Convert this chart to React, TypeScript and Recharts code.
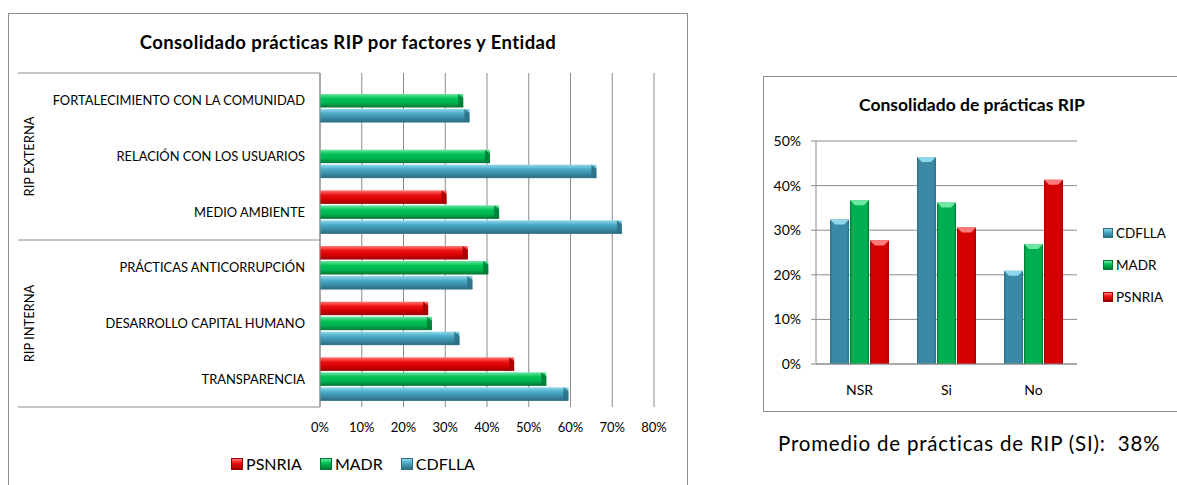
import React from 'react';
import { BarChart, Bar, XAxis, YAxis, CartesianGrid } from 'recharts';

// Factores RIP (de arriba hacia abajo) y su agrupación
const factores = [
  'FORTALECIMIENTO CON LA COMUNIDAD',
  'RELACIÓN CON LOS USUARIOS',
  'MEDIO AMBIENTE',
  'PRÁCTICAS ANTICORRUPCIÓN',
  'DESARROLLO CAPITAL HUMANO',
  'TRANSPARENCIA',
];
const grupos = ['RIP EXTERNA', 'RIP INTERNA'];
const tamanoGrupos = [3, 3];

// Porcentaje de prácticas por factor y entidad
const psnriaFactor = [null, null, 30.3, 35.4, 25.9, 46.5];
const madrFactor = [34.3, 40.7, 42.9, 40.3, 26.8, 54.2];
const cdfllaFactor = [35.8, 66.2, 72.3, 36.5, 33.4, 59.5];
const ticksFactor = [0, 10, 20, 30, 40, 50, 60, 70, 80];

// Consolidado por respuesta
const respuestas = ['NSR', 'Si', 'No'];
const cdfllaResp = [32.4, 46.4, 20.9];
const madrResp = [36.7, 36.2, 26.9];
const psnriaResp = [27.7, 30.6, 41.3];
const ticksResp = [0, 10, 20, 30, 40, 50];

const entidades = [
  { key: 'PSNRIA', light: '#ff7a7a', mid: '#ee1111', dark: '#a00000', body: '#d40000' },
  { key: 'MADR', light: '#6ee7a4', mid: '#00c254', dark: '#007a36', body: '#00b050' },
  { key: 'CDFLLA', light: '#8fd8ec', mid: '#4bacc6', dark: '#2c6f84', body: '#3a8aa5' },
];
const color = (k: string) => entidades.find((e) => e.key === k)!;

const datosFactor = factores.map((f, i) => ({
  factor: f,
  PSNRIA: psnriaFactor[i],
  MADR: madrFactor[i],
  CDFLLA: cdfllaFactor[i],
}));

const datosResp = respuestas.map((r, i) => ({
  respuesta: r,
  CDFLLA: cdfllaResp[i],
  MADR: madrResp[i],
  PSNRIA: psnriaResp[i],
}));

const promedioSi = Math.round(
  (cdfllaResp[1] + madrResp[1] + psnriaResp[1]) / 3
);

const FONT = 'Lato, "Open Sans", sans-serif';
const GRIS = '#8c8c8c';

// geometría del gráfico de barras horizontales
const W1 = 700;
const H1 = 485;
const PLOT1 = { left: 320, right: 654, top: 73, bottom: 407 };

// geometría del gráfico de columnas
const X2 = 730;
const Y2 = 60;
const W2 = 447;
const H2 = 360;
const PLOT2 = { left: 816, right: 1077, top: 141, bottom: 364 };

const barraHorizontal = (k: string) => (props: any) => {
  const { x, y, width, height } = props;
  if (!width || width <= 0) return null;
  const c = color(k);
  const b = Math.min(5, width / 2);
  return (
    <g>
      <rect x={x} y={y} width={width} height={height} fill={`url(#h-${k})`} />
      <polygon
        points={`${x + width - b},${y} ${x + width},${y + b - 1} ${x + width},${y + height} ${x + width - b},${y + height}`}
        fill={c.dark}
        opacity={0.85}
      />
      <line x1={x} y1={y + height} x2={x + width} y2={y + height} stroke={c.dark} strokeWidth={1} />
    </g>
  );
};

const barraVertical = (k: string) => (props: any) => {
  const { x, y, width, height } = props;
  if (!height || height <= 0) return null;
  const c = color(k);
  return (
    <g>
      <rect x={x} y={y} width={width} height={height} fill={`url(#v-${k})`} />
      <polygon
        points={`${x},${y} ${x + width},${y} ${x + width - 5},${y + 5} ${x + 5},${y + 5}`}
        fill={c.light}
      />
      <polygon
        points={`${x + 3},${y + height} ${x + width - 3},${y + height} ${x + width - 6},${y + height - 3} ${x + 6},${y + height - 3}`}
        fill={c.body}
        opacity={0.6}
      />
    </g>
  );
};

const Gradientes = () => (
  <svg width={0} height={0} style={{ position: 'absolute' }}>
    <defs>
      {entidades.map((e) => (
        <linearGradient key={`h-${e.key}`} id={`h-${e.key}`} x1="0" y1="0" x2="0" y2="1">
          <stop offset="0%" stopColor={e.light} />
          <stop offset="35%" stopColor={e.mid} />
          <stop offset="70%" stopColor={e.body} />
          <stop offset="100%" stopColor={e.dark} />
        </linearGradient>
      ))}
      {entidades.map((e) => (
        <linearGradient key={`v-${e.key}`} id={`v-${e.key}`} x1="0" y1="0" x2="1" y2="0">
          <stop offset="0%" stopColor={e.dark} />
          <stop offset="12%" stopColor={e.body} />
          <stop offset="88%" stopColor={e.body} />
          <stop offset="100%" stopColor={e.dark} />
        </linearGradient>
      ))}
    </defs>
  </svg>
);

const Cuadro = ({ k, size }: { k: string; size: number }) => {
  const c = color(k);
  return (
    <span
      style={{
        display: 'inline-block',
        width: size,
        height: size,
        background: `linear-gradient(${c.light}, ${c.mid} 40%, ${c.dark})`,
        border: `1px solid ${c.dark}`,
        boxSizing: 'border-box',
      }}
    />
  );
};

const GraficoFactores = () => {
  const banda = (PLOT1.bottom - PLOT1.top) / factores.length;
  const cortes = tamanoGrupos.reduce<number[]>((acc, n) => [...acc, acc[acc.length - 1] + n], [0]);
  return (
    <div style={{ position: 'absolute', left: 0, top: 0, width: W1, height: H1 }}>
      {/* marco */}
      <div
        style={{
          position: 'absolute',
          left: 8,
          top: 13,
          width: 688 - 8,
          height: 500,
          border: `1px solid ${GRIS}`,
          boxSizing: 'border-box',
        }}
      />
      <div
        style={{
          position: 'absolute',
          left: 8,
          width: 680,
          top: 30,
          textAlign: 'center',
          fontWeight: 700,
          fontSize: 18.5,
          letterSpacing: 0.4,
          lineHeight: '24px',
          color: '#000',
        }}
      >
        Consolidado prácticas RIP por factores y Entidad
      </div>
      <div style={{ position: 'absolute', left: 0, top: 0 }}>
        <BarChart
          width={W1}
          height={H1}
          data={datosFactor}
          layout="vertical"
          margin={{ top: PLOT1.top, right: W1 - PLOT1.right, bottom: 0, left: 0 }}
          barSize={13}
          barGap={2}
        >
          <CartesianGrid horizontal={false} stroke={GRIS} />
          <XAxis
            type="number"
            domain={[0, 80]}
            ticks={ticksFactor}
            tickFormatter={(v) => `${v}%`}
            axisLine={false}
            tickLine={false}
            tickSize={0}
            tickMargin={16}
            height={H1 - PLOT1.bottom}
            tick={{ fill: '#000', fontSize: 13, fontFamily: FONT }}
            interval={0}
          />
          <YAxis
            type="category"
            dataKey="factor"
            width={PLOT1.left}
            axisLine={{ stroke: GRIS }}
            tickLine={false}
            tickSize={0}
            tickMargin={15}
            tick={{ fill: '#000', fontSize: 12.9, fontFamily: FONT }}
            interval={0}
          />
          {['PSNRIA', 'MADR', 'CDFLLA'].map((k) => (
            <Bar key={k} dataKey={k} isAnimationActive={false} shape={barraHorizontal(k)} />
          ))}
        </BarChart>
      </div>
      {/* separadores y rótulos de grupo del eje de categorías */}
      <svg
        width={W1}
        height={H1}
        style={{ position: 'absolute', left: 0, top: 0, pointerEvents: 'none' }}
      >
        {cortes.map((c) => (
          <line
            key={c}
            x1={18}
            x2={PLOT1.left}
            y1={PLOT1.top + c * banda}
            y2={PLOT1.top + c * banda}
            stroke={GRIS}
          />
        ))}
        {grupos.map((g, i) => {
          const cy = PLOT1.top + ((cortes[i] + cortes[i + 1]) / 2) * banda;
          return (
            <text
              key={g}
              x={29}
              y={cy}
              transform={`rotate(-90 29 ${cy})`}
              textAnchor="middle"
              dominantBaseline="central"
              fontSize={12.9}
              fontFamily={FONT}
              fill="#000"
            >
              {g}
            </text>
          );
        })}
      </svg>
      <div
        style={{
          position: 'absolute',
          left: 8,
          width: 690,
          top: 454,
          display: 'flex',
          justifyContent: 'center',
          alignItems: 'center',
          gap: 18,
          fontSize: 16,
          color: '#000',
        }}
      >
        {['PSNRIA', 'MADR', 'CDFLLA'].map((k) => (
          <span key={k} style={{ display: 'flex', alignItems: 'center', gap: 3 }}>
            <Cuadro k={k} size={12} />
            {k}
          </span>
        ))}
      </div>
    </div>
  );
};

const GraficoRespuestas = () => (
  <div style={{ position: 'absolute', left: 0, top: 0 }}>
    <div
      style={{
        position: 'absolute',
        left: 763,
        top: 76,
        width: 500,
        height: 412 - 76,
        border: `1px solid ${GRIS}`,
        boxSizing: 'border-box',
      }}
    />
    <div
      style={{
        position: 'absolute',
        left: 852,
        width: 240,
        top: 94,
        textAlign: 'center',
        fontWeight: 700,
        fontSize: 17.5,
        lineHeight: '22px',
        color: '#000',
      }}
    >
      Consolidado de prácticas RIP
    </div>
    <div style={{ position: 'absolute', left: X2, top: Y2 }}>
      <BarChart
        width={W2}
        height={H2}
        data={datosResp}
        margin={{
          top: PLOT2.top - Y2,
          right: X2 + W2 - PLOT2.right,
          bottom: 0,
          left: PLOT2.left - X2 - 60,
        }}
        barSize={19}
        barGap={1}
      >
        <CartesianGrid vertical={false} stroke={GRIS} />
        <XAxis
          dataKey="respuesta"
          axisLine={{ stroke: GRIS }}
          tickLine={false}
          tickSize={0}
          tickMargin={21}
          height={Y2 + H2 - PLOT2.bottom}
          tick={{ fill: '#000', fontSize: 14, fontFamily: FONT }}
        />
        <YAxis
          type="number"
          domain={[0, 50]}
          ticks={ticksResp}
          tickFormatter={(v) => `${v}%`}
          width={60}
          axisLine={{ stroke: GRIS }}
          tickLine={{ stroke: GRIS }}
          tickSize={5}
          tickMargin={10}
          tick={{ fill: '#000', fontSize: 14, fontFamily: FONT }}
          interval={0}
        />
        {['CDFLLA', 'MADR', 'PSNRIA'].map((k) => (
          <Bar key={k} dataKey={k} isAnimationActive={false} shape={barraVertical(k)} />
        ))}
      </BarChart>
    </div>
    <div
      style={{
        position: 'absolute',
        left: 1103,
        top: 224,
        display: 'flex',
        flexDirection: 'column',
        gap: 14,
        fontSize: 13.5,
        color: '#000',
        lineHeight: '18px',
      }}
    >
      {['CDFLLA', 'MADR', 'PSNRIA'].map((k) => (
        <span key={k} style={{ display: 'flex', alignItems: 'center', gap: 3 }}>
          <Cuadro k={k} size={10} />
          {k}
        </span>
      ))}
    </div>
    <div
      style={{
        position: 'absolute',
        left: 778,
        top: 431,
        fontSize: 20.5,
        letterSpacing: 0.8,
        lineHeight: '25px',
        color: '#000',
        whiteSpace: 'pre',
      }}
    >
      {`Promedio de prácticas de RIP (SI):  ${promedioSi}%`}
    </div>
  </div>
);

export default function App() {
  return (
    <div
      style={{
        position: 'absolute',
        left: 0,
        top: 0,
        width: 1177,
        height: 485,
        overflow: 'hidden',
        background: '#fff',
        fontFamily: FONT,
      }}
    >
      <Gradientes />
      <GraficoFactores />
      <GraficoRespuestas />
    </div>
  );
}
